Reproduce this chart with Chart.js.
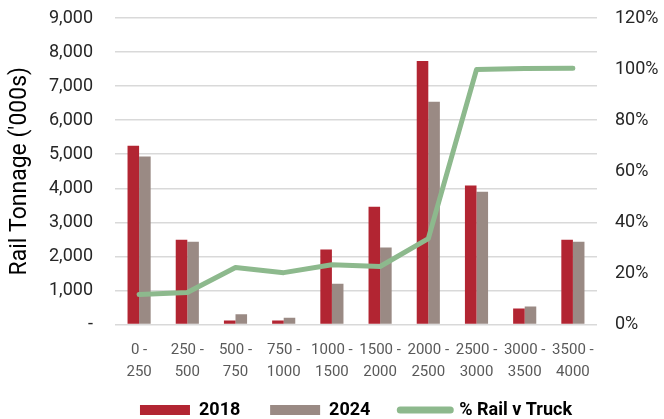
<html lang="en">
<head>
  <meta charset="UTF-8">
  <title>Rail Tonnage</title>
  <script src="https://cdn.jsdelivr.net/npm/chart.js"></script>
  <style>
    html, body { margin: 0; padding: 0; background: white; }
    .wrap { width: 664px; height: 419px; }
  </style>
</head>
<body>
  <div class="wrap"><canvas id="chart" width="664" height="419"></canvas></div>

  <script>
    const categories = [['0 -', '250'], ['250 -', '500'], ['500 -', '750'], ['750 -', '1000'], ['1000 -', '1500'],
                        ['1500 -', '2000'], ['2000 -', '2500'], ['2500 -', '3000'], ['3000 -', '3500'], ['3500 -', '4000']];
    const rail2018 = [5250, 2490, 120, 120, 2200, 3460, 7740, 4080, 470, 2490];
    const rail2024 = [4930, 2430, 300, 200, 1200, 2260, 6540, 3900, 530, 2430];
    const pctRailTruck = [11.7, 12.5, 22.3, 20.3, 23.4, 22.7, 33.6, 99.8, 100.2, 100.3];

    const font = "Roboto";

    // center the legend over the plot area rather than the whole canvas
    const legendOverPlot = {
      id: 'legendOverPlot',
      beforeDraw(chart) {
        const lg = chart.legend, ca = chart.chartArea;
        if (!lg || !ca) return;
        lg.left = ca.left;
        lg.right = ca.right;
        lg.width = ca.right - ca.left;
      }
    };

    new Chart(document.getElementById("chart"), {
      type: 'bar',
      data: {
        labels: categories,
        datasets: [
          { label: '2018', data: rail2018, backgroundColor: '#B22532', yAxisID: 'y', order: 1,
            pointStyle: 'rect', barPercentage: 1, categoryPercentage: 0.48 },
          { label: '2024', data: rail2024, backgroundColor: '#9A8A84', yAxisID: 'y', order: 1,
            pointStyle: 'rect', barPercentage: 1, categoryPercentage: 0.48 },
          { type: 'line', label: '% Rail v Truck', data: pctRailTruck, yAxisID: 'y1', order: 0,
            borderColor: '#8DB98D', backgroundColor: '#8DB98D', borderWidth: 5, pointRadius: 0,
            tension: 0, pointStyle: 'line', borderCapStyle: 'round', borderJoinStyle: 'round' }
        ]
      },
      plugins: [legendOverPlot],
      options: {
        responsive: false,
        animation: false,
        layout: { padding: { top: 18, right: 0, left: 0, bottom: -10 } },
        plugins: {
          tooltip: { enabled: false },
          legend: {
            position: 'bottom',
            labels: {
              usePointStyle: true,
              pointStyleWidth: 50,
              boxHeight: 10,
              padding: 3,
              color: '#000',
              font: { family: font, size: 18, weight: 'bold' },
              sort: (a, b) => a.datasetIndex - b.datasetIndex,
              generateLabels(chart) {
                const items = Chart.defaults.plugins.legend.labels.generateLabels(chart);
                items.forEach(it => {
                  if (it.datasetIndex < 2) it.text = it.text + '      ';
                  else { it.lineWidth = 7; it.lineCap = 'round'; }
                });
                return items;
              }
            }
          }
        },
        scales: {
          x: {
            grid: { display: false, drawTicks: false },
            border: { display: false },
            ticks: { color: '#595959', font: { family: font, size: 15, lineHeight: 1.45 }, maxRotation: 0, padding: 15 }
          },
          y: {
            position: 'left',
            min: 0, max: 9000,
            afterFit: s => { s.width = 115; },
            ticks: {
              stepSize: 1000,
              color: '#262626',
              padding: 2,
              font: { family: font, size: 18 },
              callback: v => v === 0 ? '-' : v.toLocaleString('en-US')
            },
            grid: { color: '#D9D9D9', lineWidth: 1.5, drawTicks: true, tickLength: 20, tickColor: 'transparent' },
            border: { display: false },
            title: { display: true, text: "Rail Tonnage ('000s)", color: '#000', padding: { top: 6, bottom: 0 },
                     font: { family: font, size: 23 } }
          },
          y1: {
            position: 'right',
            min: 0, max: 120,
            afterFit: s => { s.width = 67; },
            ticks: {
              stepSize: 20,
              color: '#262626',
              padding: 2,
              font: { family: font, size: 18 },
              callback: v => v + '%'
            },
            grid: { display: true, drawOnChartArea: false, color: 'transparent', drawTicks: true, tickLength: 16, tickColor: 'transparent' },
            border: { display: false }
          }
        }
      }
    });
  </script>
</body>
</html>
